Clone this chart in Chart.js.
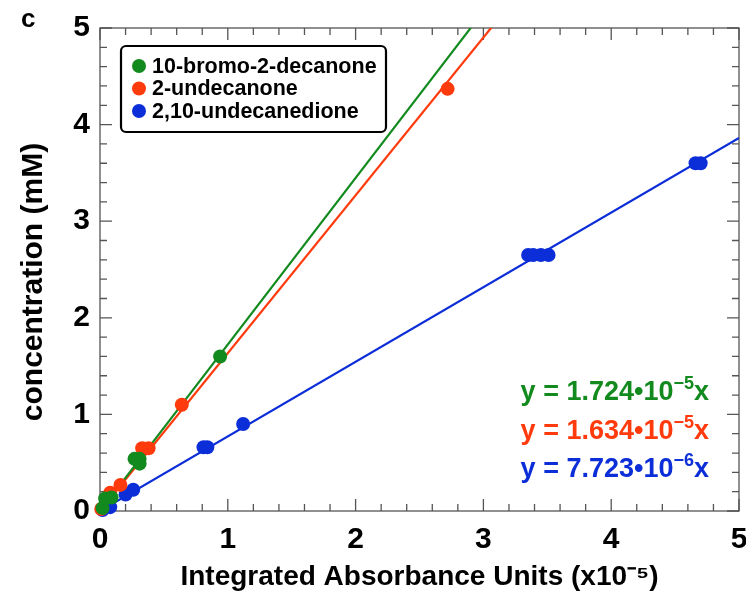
<!DOCTYPE html>
<html>
<head>
<meta charset="utf-8">
<script src="https://cdn.jsdelivr.net/npm/chart.js@4/dist/chart.umd.min.js"></script>
<style>
  html, body { margin: 0; padding: 0; background: #fff; }
  #wrap { width: 746px; height: 594px; }
</style>
</head>
<body>
<div id="wrap"><canvas id="calib"></canvas></div>
<script>
// series names and colours
const compounds = ['10-bromo-2-decanone', '2-undecanone', '2,10-undecanedione'];
const colors = ['#138a1e', '#ff3a0c', '#0c2ed8'];

// measured points (x in integrated absorbance units x10^-5, y in mM)
const bromoX = [0.02, 0.04, 0.09, 0.27, 0.31, 0.31, 0.94];
const bromoY = [0.03, 0.13, 0.14, 0.54, 0.54, 0.49, 1.60];
const undecX = [0.01, 0.08, 0.16, 0.33, 0.38, 0.64, 2.72];
const undecY = [0.02, 0.19, 0.27, 0.65, 0.65, 1.10, 4.37];
const dioneX = [0.02, 0.08, 0.20, 0.26, 0.81, 0.84, 1.12, 3.35, 3.39, 3.45, 3.51, 4.66, 4.70];
const dioneY = [0.01, 0.04, 0.17, 0.22, 0.66, 0.66, 0.90, 2.65, 2.65, 2.65, 2.65, 3.60, 3.60];

// fitted slopes as printed on the chart (coefficient, exponent)
const slopes = [1.724, 1.634, 0.7723];
const slopeText = ['1.724', '1.634', '7.723'];
const slopeExp = ['\u22125', '\u22125', '\u22126'];

const xTicks = [0, 1, 2, 3, 4, 5];
const yTicks = [0, 1, 2, 3, 4, 5];

const FONT = "'Liberation Sans', Arial, Helvetica, sans-serif";

function pts(xs, ys) {
    return xs.map((x, i) => ({ x: x, y: ys[i] }));
}

const pointSets = [pts(bromoX, bromoY), pts(undecX, undecY), pts(dioneX, dioneY)];

const datasets = [];
slopes.forEach((m, i) => {
    datasets.push({
        type: 'line',
        label: 'fit ' + i,
        data: [{ x: xTicks[0], y: 0 }, { x: xTicks[xTicks.length - 1], y: m * xTicks[xTicks.length - 1] }],
        borderColor: colors[i],
        borderWidth: 2.2,
        pointRadius: 0,
        fill: false,
        order: 2
    });
});
pointSets.forEach((d, i) => {
    datasets.push({
        type: 'scatter',
        label: compounds[i],
        data: d,
        backgroundColor: colors[i],
        borderColor: colors[i],
        borderWidth: 0,
        pointRadius: 7,
        clip: false,
        order: 1
    });
});

// frame with inward major/minor ticks on all four sides
const framePlugin = {
    id: 'frame',
    beforeDatasetsDraw(chart) {
        const { ctx, chartArea: a, scales: { x, y } } = chart;
        ctx.save();
        ctx.strokeStyle = '#555';
        ctx.lineWidth = 1.3;
        ctx.strokeRect(a.left, a.top, a.right - a.left, a.bottom - a.top);
        ctx.beginPath();
        for (let k = 0; k <= 25; k++) {
            const v = k * 0.2;
            const len = (k % 5 === 0) ? 12 : 7;
            const px = x.getPixelForValue(v);
            const py = y.getPixelForValue(v);
            ctx.moveTo(px, a.bottom); ctx.lineTo(px, a.bottom - len);
            ctx.moveTo(px, a.top); ctx.lineTo(px, a.top + len);
            ctx.moveTo(a.left, py); ctx.lineTo(a.left + len, py);
            ctx.moveTo(a.right, py); ctx.lineTo(a.right - len, py);
        }
        ctx.stroke();
        ctx.restore();
    },
    afterDraw(chart) {
        const { ctx, chartArea: a } = chart;
        ctx.save();
        // panel letter
        ctx.fillStyle = '#000';
        ctx.font = 'bold 26px ' + FONT;
        ctx.textBaseline = 'alphabetic';
        ctx.textAlign = 'left';
        ctx.fillText('c', 21, 27);

        // legend box
        const bx = a.left + 21, by = 46, bw = 265, bh = 86;
        ctx.lineWidth = 2.2;
        ctx.strokeStyle = '#000';
        ctx.fillStyle = '#fff';
        ctx.beginPath();
        ctx.roundRect(bx, by, bw, bh, 5);
        ctx.fill();
        ctx.stroke();
        ctx.font = 'bold 21.5px ' + FONT;
        ctx.textBaseline = 'middle';
        compounds.forEach((name, i) => {
            const cy = by + 20 + i * 22.5;
            ctx.fillStyle = colors[i];
            ctx.beginPath();
            ctx.arc(bx + 18, cy, 7, 0, Math.PI * 2);
            ctx.fill();
            ctx.fillStyle = '#000';
            ctx.fillText(name, bx + 31, cy + 1);
        });

        // fit equations, right aligned
        const rightX = a.right - 30;
        ctx.textBaseline = 'alphabetic';
        slopeText.forEach((s, i) => {
            const base = 400 + i * 38.5;
            const main = 'y = ' + s + '\u202210';
            ctx.font = 'bold 27px ' + FONT;
            const wx = ctx.measureText('x').width;
            const wMain = ctx.measureText(main).width;
            ctx.font = 'bold 18px ' + FONT;
            const wSup = ctx.measureText(slopeExp[i]).width;
            const start = rightX - wx - wSup - wMain;
            ctx.fillStyle = colors[i];
            ctx.font = 'bold 27px ' + FONT;
            ctx.textAlign = 'left';
            ctx.fillText(main, start, base);
            ctx.fillText('x', start + wMain + wSup, base);
            ctx.font = 'bold 18px ' + FONT;
            ctx.fillText(slopeExp[i], start + wMain, base - 11);
        });
        ctx.restore();
    }
};

const ctx = document.getElementById('calib').getContext('2d');
const chart = new Chart(ctx, {
    type: 'scatter',
    data: { datasets: datasets },
    options: {
        responsive: true,
        maintainAspectRatio: false,
        animation: false,
        layout: { padding: { top: 28, right: 6, left: 0, bottom: 0 } },
        plugins: {
            legend: { display: false },
            tooltip: { enabled: false }
        },
        scales: {
            x: {
                type: 'linear',
                min: xTicks[0],
                max: xTicks[xTicks.length - 1],
                afterBuildTicks(scale) { scale.ticks = xTicks.map(v => ({ value: v })); },
                afterFit(scale) {
                    scale.height = 83;
                    scale.paddingLeft = 0;
                    scale.paddingRight = 0;
                },
                grid: { display: false, drawTicks: false },
                border: { display: false },
                ticks: {
                    color: '#000',
                    padding: 11,
                    maxRotation: 0,
                    font: { family: FONT, size: 30, weight: 'bold' }
                },
                title: {
                    display: true,
                    text: 'Integrated Absorbance Units (x10\u207B\u2075)',
                    color: '#000',
                    padding: { top: 0, bottom: 0 },
                    font: { family: FONT, size: 28, weight: 'bold', lineHeight: 1.2 }
                }
            },
            y: {
                type: 'linear',
                min: yTicks[0],
                max: yTicks[yTicks.length - 1],
                afterBuildTicks(scale) { scale.ticks = yTicks.map(v => ({ value: v })); },
                afterFit(scale) {
                    scale.width = 100;
                    scale.paddingTop = 0;
                    scale.paddingBottom = 0;
                },
                grid: { display: false, drawTicks: false },
                border: { display: false },
                ticks: {
                    color: '#000',
                    padding: 10,
                    font: { family: FONT, size: 30, weight: 'bold' }
                },
                title: {
                    display: true,
                    text: 'concentration (mM)   ',
                    color: '#000',
                    padding: { top: 16, bottom: 0 },
                    font: { family: FONT, size: 30, weight: 'bold', lineHeight: 1.2 }
                }
            }
        }
    },
    plugins: [framePlugin]
});
</script>
</body>
</html>
